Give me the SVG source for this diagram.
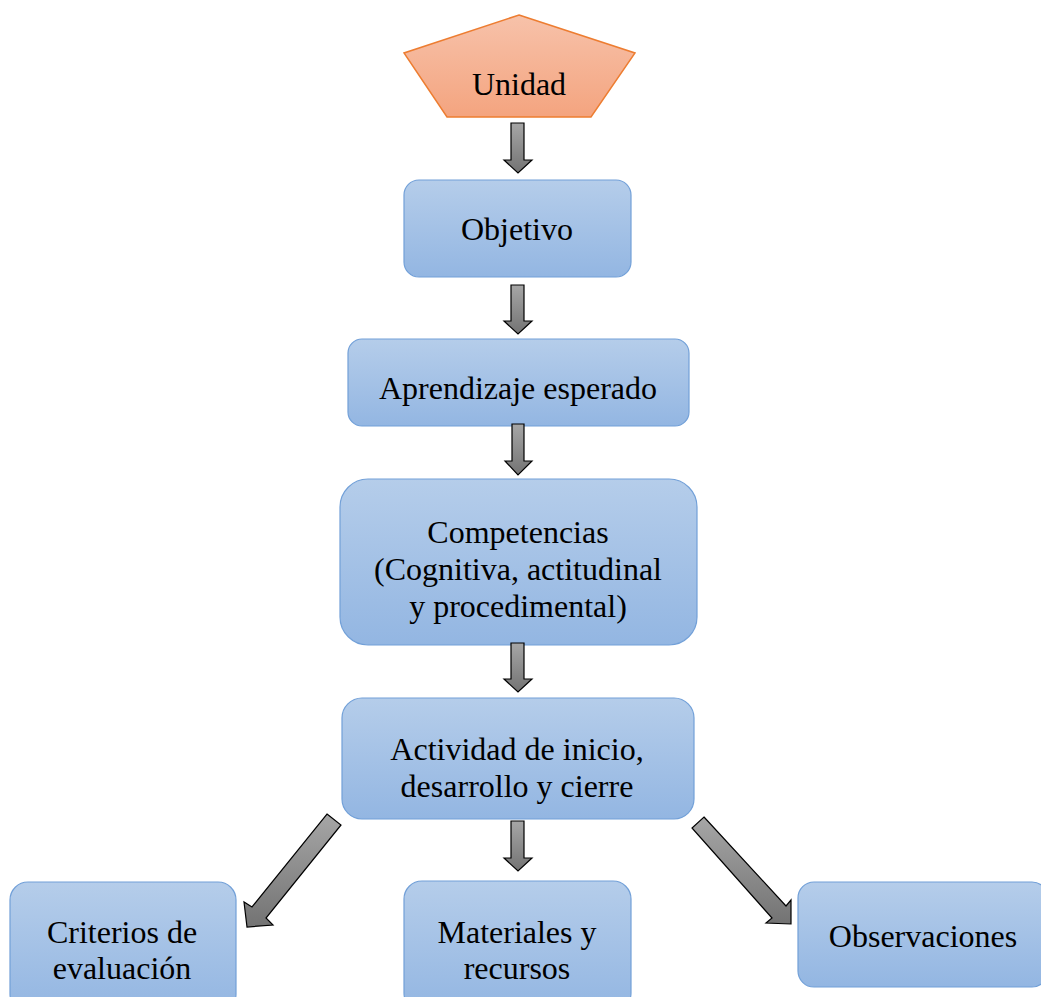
<svg xmlns="http://www.w3.org/2000/svg" width="1041" height="997" viewBox="0 0 1041 997">
<defs>
<linearGradient id="gBlue" x1="0" y1="0" x2="0" y2="1"><stop offset="0" stop-color="#b5cdea"/><stop offset="1" stop-color="#93b6e2"/></linearGradient>
<linearGradient id="gOrange" x1="0" y1="0" x2="0" y2="1"><stop offset="0" stop-color="#f7c2aa"/><stop offset="1" stop-color="#f4a47f"/></linearGradient>
<linearGradient id="gGray" x1="0" y1="0" x2="0" y2="1"><stop offset="0" stop-color="#a6a6a6"/><stop offset="1" stop-color="#737373"/></linearGradient>
<style>
.box{fill:url(#gBlue);stroke:#72a0d8;stroke-width:1.2}
.pent{fill:url(#gOrange);stroke:#ed7d31;stroke-width:1.5}
.arr{fill:url(#gGray);stroke:#000;stroke-width:1.2;stroke-linejoin:miter}
text{font-family:"Liberation Serif","Times New Roman",serif;font-size:32px;fill:#000;text-anchor:middle}
</style>
</defs>
<g id="unidad"><polygon class="pent" points="519,15 635,53 591,117 447,117 404,53"/><text x="519" y="95">Unidad</text></g>
<g id="objetivo"><rect class="box" x="404" y="180" width="227" height="97" rx="15"/><text x="517" y="240">Objetivo</text></g>
<g id="aprendizaje"><rect class="box" x="348" y="339" width="341" height="87" rx="14"/><text x="518" y="399">Aprendizaje esperado</text></g>
<g id="competencias"><rect class="box" x="340" y="479" width="357" height="166" rx="28"/><text x="518" y="543">Competencias</text><text x="518" y="580">(Cognitiva, actitudinal</text><text x="518" y="617">y procedimental)</text></g>
<g id="actividad"><rect class="box" x="342" y="698" width="352" height="121" rx="20"/><text x="517" y="760">Actividad de inicio,</text><text x="517" y="797">desarrollo y cierre</text></g>
<g id="criterios"><rect class="box" x="10" y="882" width="226" height="130" rx="18"/><text x="122" y="943">Criterios de</text><text x="122" y="979">evaluación</text></g>
<g id="materiales"><rect class="box" x="404" y="881" width="227" height="130" rx="18"/><text x="517" y="943">Materiales y</text><text x="517" y="979">recursos</text></g>
<g id="observaciones"><rect class="box" x="798" y="882" width="250" height="105" rx="16"/><text x="923" y="947">Observaciones</text></g>
<g id="connectors">
<polygon class="arr" points="511,123 524,123 524,160 532,160 518,173 504,160 511,160"/>
<polygon class="arr" points="511,285 524,285 524,321 532,321 518,334 504,321 511,321"/>
<polygon class="arr" points="512,424 524,424 524,461 532,461 518,475 505,461 512,461"/>
<polygon class="arr" points="511,643 524,643 524,679 532,679 518,692 504,679 511,679"/>
<polygon class="arr" points="511,821 524,821 524,858 532,858 518,871 504,858 511,858"/>
<polygon class="arr" points="327,814 341,825 266,918 273,925 247,927 244,902 252,907"/>
<polygon class="arr" points="704,817 786,906 791,900 791,924 766,923 772,918 692,828"/>
</g>
</svg>
